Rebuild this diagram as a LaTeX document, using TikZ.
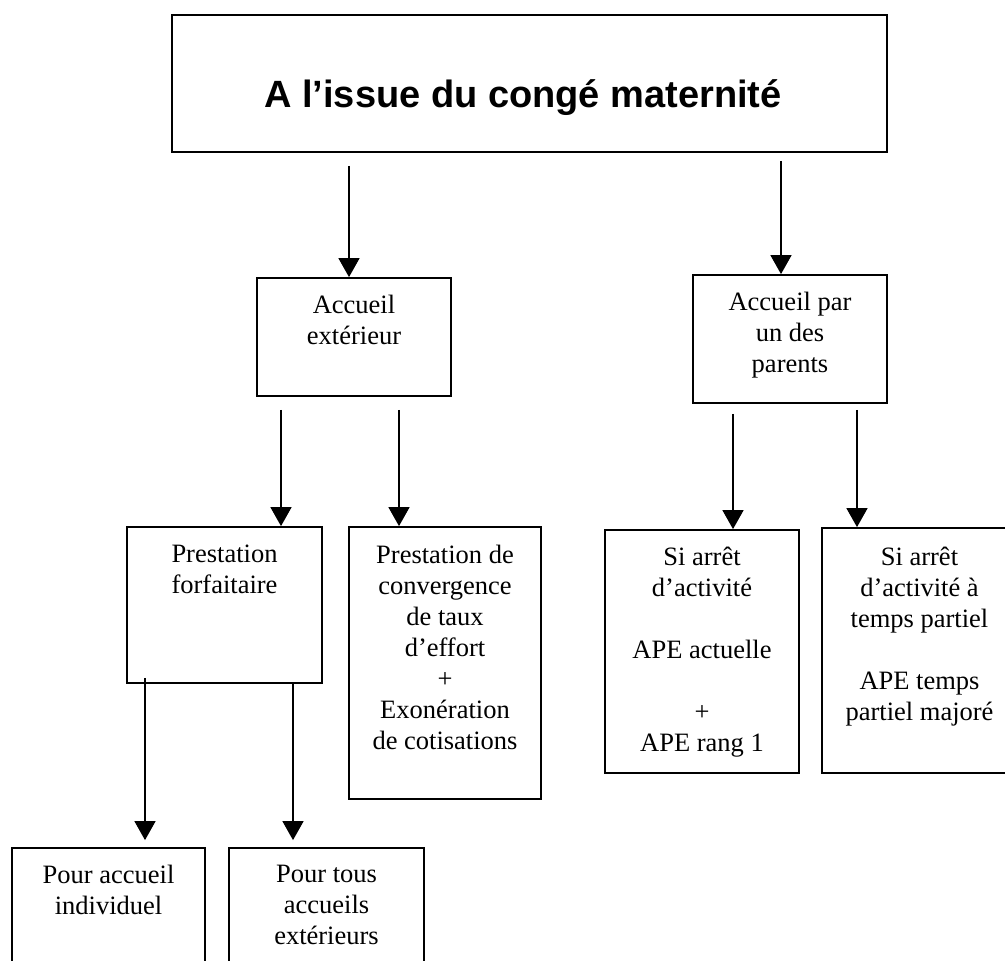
\documentclass[tikz,border=0pt]{standalone}
\usepackage{fontspec}
\setmainfont{Liberation Serif}
\newfontfamily\titlefont{Liberation Sans}
\usetikzlibrary{arrows.meta}
\begin{document}
\begin{tikzpicture}[x=1pt,y=-1pt,
  frame/.style={draw, line width=1.8pt, inner sep=0pt},
  txt/.style={anchor=north, align=center, inner sep=0pt, font=\fontsize{26.5}{31}\selectfont},
  arr/.style={line width=1.5pt, -{Triangle[width=21pt,length=19pt]}}]
\useasboundingbox (0,0) rectangle (1005,961);

% boxes
\node[frame, minimum width=715pt, minimum height=137pt] (top) at (529.5,83.5) {};
\node[frame, minimum width=194pt, minimum height=118pt] (ext) at (354,337) {};
\node[frame, minimum width=194pt, minimum height=128pt] (par) at (790,339) {};
\node[frame, minimum width=195pt, minimum height=156pt] (forf) at (224.5,605) {};
\node[frame, minimum width=192pt, minimum height=272pt] (conv) at (445,663) {};
\node[frame, minimum width=194pt, minimum height=243pt] (arret) at (702,651.5) {};
\node[frame, minimum width=195pt, minimum height=245pt] (partiel) at (919.5,650.5) {};
\node[frame, minimum width=193pt, minimum height=142pt] (indiv) at (108.5,919) {};
\node[frame, minimum width=195pt, minimum height=142pt] (tous) at (326.5,919) {};

% texts
\node[anchor=base, inner sep=0pt, font=\titlefont\bfseries\fontsize{38}{44}\selectfont] (top-t) at (523,107) {A l’issue du congé maternité};
\node[txt] (ext-t) at (354,295) {Accueil\\extérieur};
\node[txt] (par-t) at (790,292) {Accueil par\\un des\\parents};
\node[txt] (forf-t) at (224.5,545) {Prestation\\forfaitaire};
\node[txt] (conv-t) at (445,545) {Prestation de\\convergence\\de taux\\d’effort\\+\\Exonération\\de cotisations};
\node[txt] (arret-t) at (702,547) {Si arrêt\\d’activité\\[31pt]APE actuelle\\[31pt]+\\APE rang 1};
\node[txt] (partiel-t) at (919.5,547) {Si arrêt\\d’activité à\\temps partiel\\[31pt]APE temps\\partiel majoré};
\node[txt] (indiv-t) at (108.5,865) {Pour accueil\\individuel};
\node[txt] (tous-t) at (326.5,865) {Pour tous\\accueils\\extérieurs};

% arrows
\draw[arr, shorten <=13pt] (top.south -| 349,0) -- (ext.north -| 349,0);
\draw[arr, shorten <=8pt] (top.south -| 781,0) -- (par.north -| 781,0);
\draw[arr, shorten <=13pt] (ext.south -| 281,0) -- (forf.north -| 281,0);
\draw[arr, shorten <=13pt] (ext.south -| 399,0) -- (conv.north -| 399,0);
\draw[arr, shorten <=10pt] (par.south -| 733,0) -- (arret.north -| 733,0);
\draw[arr, shorten <=6pt] (par.south -| 857,0) -- (partiel.north -| 857,0);
\draw[arr, shorten <=-6pt, shorten >=7pt] (forf.south -| 145,0) -- (indiv.north -| 145,0);
\draw[arr, shorten >=7pt] (forf.south -| 293,0) -- (tous.north -| 293,0);
\end{tikzpicture}
\end{document}
